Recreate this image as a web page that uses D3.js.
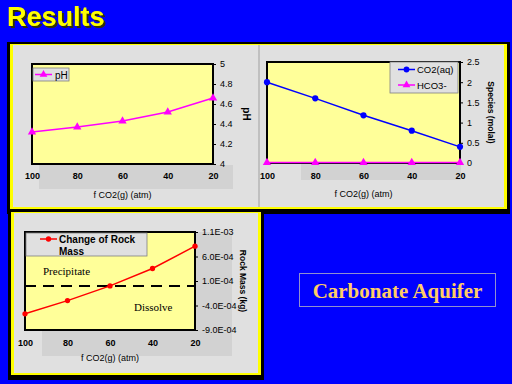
<!DOCTYPE html>
<html><head><meta charset="utf-8">
<script src="https://cdn.jsdelivr.net/npm/d3@7"></script>
<style>
html,body{margin:0;padding:0;background:#0000ff;}
svg{display:block;}
</style></head>
<body>
<svg id="c" width="512" height="384"></svg>
<script>
// ---- data ----
const categories = [100, 80, 60, 40, 20];
const pH = [4.32, 4.37, 4.43, 4.52, 4.66];
const co2aq = [2.0, 1.6, 1.18, 0.8, 0.4];
const hco3 = [0.012, 0.012, 0.01, 0.01, 0.01];
const rockMass = [-5.7e-4, -3.0e-4, 0.0, 3.55e-4, 8.1e-4];
const pHTicks = [4, 4.2, 4.4, 4.6, 4.8, 5];
const speciesTicks = [0, 0.5, 1, 1.5, 2, 2.5];
const rockTicks = [-9e-4, -4e-4, 1e-4, 6e-4, 1.1e-3];
const rockTickLabels = ["-9.0E-04", "-4.0E-04", "1.0E-04", "6.0E-04", "1.1E-03"];

const svg = d3.select("#c");
svg.append("rect").attr("width",512).attr("height",384).attr("fill","#0000ff");

const defs = svg.append("defs");
const f = defs.append("filter").attr("id","shadow").attr("x","-10%").attr("y","-20%").attr("width","130%").attr("height","150%");
f.append("feDropShadow").attr("dx",2).attr("dy",2).attr("stdDeviation",0.3).attr("flood-color","#303000").attr("flood-opacity",1);

// Title
svg.append("text").attr("x",7).attr("y",26).text("Results")
  .attr("font-family","Liberation Sans, Arial, sans-serif").attr("font-weight","bold")
  .attr("font-size",27).attr("fill","#ffff00").attr("filter","url(#shadow)");

// Frames
function frame(x0,y0,x1,y1){
  svg.append("rect").attr("x",x0).attr("y",y0).attr("width",x1-x0).attr("height",y1-y0).attr("fill","#000");
  svg.append("rect").attr("x",x0+3).attr("y",y0+2).attr("width",x1-x0-6).attr("height",y1-y0-7).attr("fill","#ffff00");
  svg.append("rect").attr("x",x0+6).attr("y",y0+3).attr("width",x1-x0-12).attr("height",y1-y0-10).attr("fill","#e0e0e0");
}
frame(7,42,510,214);
frame(8,210,264,380);
svg.append("line").attr("x1",259).attr("x2",259).attr("y1",45).attr("y2",207).attr("stroke","#a0a0a0").attr("stroke-width",1);

const font = "Liberation Sans, Arial, sans-serif";
const serif = "Liberation Serif, Times New Roman, serif";

function chart(opt){
  const g = svg.append("g");
  (opt.shade||[]).forEach(s=>g.append("rect").attr("x",s[0]).attr("y",s[1]).attr("width",s[2]).attr("height",s[3]).attr("fill","#d2d2d2"));
  const x = d3.scalePoint().domain(categories).range([opt.x0,opt.x1]);
  const y = d3.scaleLinear().domain(opt.domain).range([opt.y1,opt.y0]);
  g.append("rect").attr("x",opt.x0).attr("y",opt.y0).attr("width",opt.x1-opt.x0).attr("height",opt.y1-opt.y0)
    .attr("fill","#ffff99").attr("stroke","#000").attr("stroke-width",2);
  const ya = g.append("g").attr("transform",`translate(${opt.x1},0)`)
    .call(d3.axisRight(y).tickValues(opt.ticks).tickSize(3).tickPadding(4).tickFormat(opt.fmt));
  ya.select(".domain").remove();
  ya.selectAll("line").attr("stroke","#000");
  ya.selectAll("text").attr("font-family",font).attr("font-size",9).attr("fill","#000");
  const xa = g.append("g").attr("transform",`translate(0,${opt.y1})`)
    .call(d3.axisBottom(x).tickSize(0).tickPadding(opt.xpad||8));
  xa.select(".domain").remove();
  xa.selectAll("text").attr("font-family",font).attr("font-size",9).attr("font-weight","bold").attr("fill","#000");
  g.append("text").attr("x",(opt.x0+opt.x1)/2).attr("y",opt.xTitleY).attr("text-anchor","middle")
    .attr("font-family",font).attr("font-size",9).attr("fill","#000").text("f CO2(g) (atm)");
  g.append("text").attr("transform",`translate(${opt.yTitleX},${(opt.y0+opt.y1)/2}) rotate(90)`)
    .attr("text-anchor","middle").attr("dominant-baseline","middle")
    .attr("font-family",font).attr("font-size",opt.yTitleSize||8.5).attr("font-weight","bold").attr("fill","#000").text(opt.yTitle);
  return {g,x,y};
}

function series(c, vals, color, marker, r){
  const line = d3.line().x((d,i)=>c.x(categories[i])).y(d=>c.y(d));
  c.g.append("path").datum(vals).attr("d",line).attr("fill","none").attr("stroke",color).attr("stroke-width",1.5);
  const sym = marker==="tri" ? d3.symbolTriangle : d3.symbolCircle;
  c.g.selectAll(null).data(vals).enter().append("path")
    .attr("d",d3.symbol().type(sym).size(r))
    .attr("transform",(d,i)=>`translate(${c.x(categories[i])},${c.y(d)})`)
    .attr("fill",color);
}

function legendEntry(g,x,y,color,marker,r){
  g.append("line").attr("x1",x).attr("x2",x+17).attr("y1",y).attr("y2",y).attr("stroke",color).attr("stroke-width",1.5);
  g.append("path").attr("d",d3.symbol().type(marker==="tri"?d3.symbolTriangle:d3.symbolCircle).size(r))
    .attr("transform",`translate(${x+8.5},${y})`).attr("fill",color);
}

// ---- chart 1: pH ----
const c1 = chart({x0:32,x1:213,y0:64,y1:164,domain:[4,5],ticks:pHTicks,fmt:d3.format("~g"),
  yTitle:"pH",yTitleX:246,yTitleSize:10,xTitleY:198,xpad:9,shade:[[39,165,194,24]]});
series(c1,pH,"#ff00ff","tri",30);
c1.g.append("rect").attr("x",33).attr("y",68).attr("width",36).attr("height",13).attr("fill","#e0e0e0").attr("stroke","#808080").attr("stroke-width",0.8);
legendEntry(c1.g,35,74.5,"#ff00ff","tri",26);
c1.g.append("text").attr("x",55).attr("y",78.5).attr("font-family",font).attr("font-size",10).text("pH");

// ---- chart 2: species ----
const c2 = chart({x0:267,x1:460,y0:62,y1:163,domain:[0,2.5],ticks:speciesTicks,fmt:d3.format("~g"),
  yTitle:"Species (molal)",yTitleX:490,xTitleY:197,xpad:10,shade:[[301,164,160,16]]});
series(c2,co2aq,"#0000ff","circ",30);
series(c2,hco3,"#ff00ff","tri",30);
c2.g.append("rect").attr("x",390).attr("y",62).attr("width",68).attr("height",31).attr("fill","#e0e0e0").attr("stroke","#808080").attr("stroke-width",0.8);
legendEntry(c2.g,398,69.5,"#0000ff","circ",26);
c2.g.append("text").attr("x",417).attr("y",73).attr("font-family",font).attr("font-size",9.5).text("CO2(aq)");
legendEntry(c2.g,398,85,"#ff00ff","tri",26);
c2.g.append("text").attr("x",417).attr("y",88.5).attr("font-family",font).attr("font-size",9.5).text("HCO3-");

// ---- chart 3: rock mass ----
const rockFmt = d => rockTickLabels[rockTicks.indexOf(d)];
const c3 = chart({x0:25,x1:195,y0:232,y1:330,domain:[-9e-4,1.1e-3],ticks:rockTicks,fmt:rockFmt,
  yTitle:"Rock Mass (kg)",yTitleX:242,xTitleY:361,xpad:10,shade:[[42,331,190,25],[196,232,36,99]]});
c3.g.append("line").attr("x1",25).attr("x2",195).attr("y1",c3.y(0)).attr("y2",c3.y(0))
  .attr("stroke","#000").attr("stroke-width",2).attr("stroke-dasharray","11,7");
series(c3,rockMass,"#ff0000","circ",22);
c3.g.append("rect").attr("x",26).attr("y",233).attr("width",121).attr("height",23).attr("fill","#e0e0e0").attr("stroke","#808080").attr("stroke-width",0.8);
legendEntry(c3.g,40,239,"#ff0000","circ",22);
c3.g.append("text").attr("x",59).attr("y",242.5).attr("font-family",font).attr("font-size",10).attr("font-weight","bold").text("Change of Rock");
c3.g.append("text").attr("x",59).attr("y",254.5).attr("font-family",font).attr("font-size",10).attr("font-weight","bold").text("Mass");
c3.g.append("text").attr("x",43).attr("y",275).attr("font-family",serif).attr("font-size",11).text("Precipitate");
c3.g.append("text").attr("x",134).attr("y",311).attr("font-family",serif).attr("font-size",11).text("Dissolve");

// ---- Carbonate Aquifer box ----
svg.append("rect").attr("x",299.5).attr("y",273.5).attr("width",196).attr("height",33).attr("fill","none").attr("stroke","#9090d0").attr("stroke-width",1);
svg.append("text").attr("x",397.5).attr("y",298).attr("text-anchor","middle")
  .attr("font-family",serif).attr("font-weight","bold").attr("font-size",21)
  .attr("fill","#ffcc66").text("Carbonate Aquifer");
</script>
</body></html>
